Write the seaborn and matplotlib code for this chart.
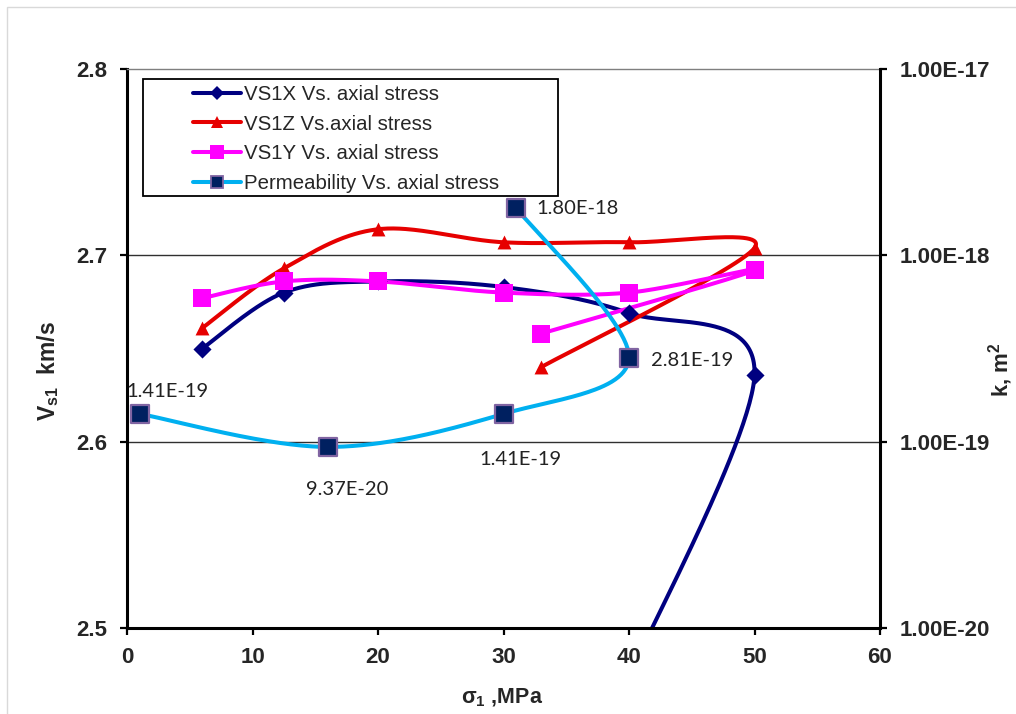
import numpy as np
import matplotlib
matplotlib.use('Agg')
import matplotlib.pyplot as plt
import seaborn as sns
import pandas as pd
from matplotlib.lines import Line2D
from matplotlib.patches import Rectangle
from matplotlib.ticker import FixedLocator, FixedFormatter, NullLocator

# ---------------- data ----------------
stress_x = [6, 12.5, 20, 30, 40, 50, 39]
vs1x = [2.650, 2.680, 2.686, 2.683, 2.669, 2.636, 2.46]
stress_z = [6, 12.5, 20, 30, 40, 50, 33]
vs1z = [2.661, 2.693, 2.714, 2.707, 2.707, 2.704, 2.640]
stress_y = [6, 12.5, 20, 30, 40, 50, 33]
vs1y = [2.677, 2.686, 2.686, 2.680, 2.680, 2.692, 2.658]
stress_k = [1, 16, 30, 40, 31]
perm = [1.41e-19, 9.37e-20, 1.41e-19, 2.81e-19, 1.80e-18]
perm_labels = ['1.41E-19', '9.37E-20', '1.41E-19', '2.81E-19', '1.80E-18']
legend_labels = ['VS1X Vs. axial stress', 'VS1Z Vs.axial stress',
                 'VS1Y Vs. axial stress', 'Permeability Vs. axial stress']
x_ticks = [0, 10, 20, 30, 40, 50, 60]
vs_ticks = [2.5, 2.6, 2.7, 2.8]
vs_tick_labels = ['2.5', '2.6', '2.7', '2.8']
k_ticks = [1e-20, 1e-19, 1e-18, 1e-17]
k_tick_labels = ['1.00E-20', '1.00E-19', '1.00E-18', '1.00E-17']

# ---------------- style ----------------
sns.set_style('white')
plt.rcParams['font.family'] = ['Liberation Sans', 'DejaVu Sans']
plt.rcParams['mathtext.fontset'] = 'custom'
plt.rcParams['mathtext.rm'] = 'Liberation Sans'
plt.rcParams['mathtext.bf'] = 'Liberation Sans:bold'
plt.rcParams['mathtext.it'] = 'Liberation Sans:italic'

NAVY = '#000080'
RED = '#e60000'
MAG = '#ff00ff'
CYAN = '#00b0f0'
PFILL = '#002060'
PEDGE = '#8064a2'

W, H = 1016, 714
fig = plt.figure(figsize=(W / 100, H / 100), dpi=100)
fig.patch.set_facecolor('white')
L, R, T, B = 127, 880, 69, 628
ax = fig.add_axes([L / W, 1 - B / H, (R - L) / W, (B - T) / H])
ax2 = ax.twinx()

XMIN, XMAX = 0, 60
YMIN, YMAX = 2.5, 2.8
ax.set_xlim(XMIN, XMAX)
ax.set_ylim(YMIN, YMAX)
ax2.set_yscale('log')
ax2.set_ylim(1e-20, 1e-17)

PXW = R - L
PXH = B - T


def smooth(xs, ys, sx, sy, n=60):
    P = np.column_stack([np.asarray(xs, float) * sx, np.asarray(ys, float) * sy])
    m = len(P)
    out = []
    for i in range(m - 1):
        p0 = P[i - 1] if i > 0 else P[i]
        p1, p2 = P[i], P[i + 1]
        p3 = P[i + 2] if i + 2 < m else P[i + 1]
        c1 = p1 + (p2 - p0) / 6.0
        c2 = p2 - (p3 - p1) / 6.0
        t = np.linspace(0, 1, n)[:, None]
        seg = (1 - t) ** 3 * p1 + 3 * (1 - t) ** 2 * t * c1 + 3 * (1 - t) * t ** 2 * c2 + t ** 3 * p2
        out.append(seg if i == 0 else seg[1:])
    pts = np.vstack(out)
    return pts[:, 0] / sx, pts[:, 1] / sy


sx = PXW / (XMAX - XMIN)
sy = PXH / (YMAX - YMIN)
LW = 2.9

series = [
    (stress_x, vs1x, NAVY, 'D', 85, NAVY, 0),
    (stress_z, vs1z, RED, '^', 100, RED, 0),
    (stress_y, vs1y, MAG, 's', 170, MAG, 0),
]
for xs, ys, col, mk, s, ec, elw in series:
    cx, cy = smooth(xs, ys, sx, sy)
    sns.lineplot(x=cx, y=cy, sort=False, estimator=None, ax=ax, color=col,
                 lw=LW, legend=False)
    sns.scatterplot(x=xs, y=ys, ax=ax, marker=mk, s=s, color=col,
                    edgecolor=ec, linewidth=elw, zorder=3, legend=False)

# permeability on log axis, smoothed in log space (pixel-proportional)
logk = np.log10(perm)
sky = PXH / 3.0
cx, cly = smooth(stress_k, logk, sx, sky)
sns.lineplot(x=cx, y=10 ** cly, sort=False, estimator=None, ax=ax2, color=CYAN,
             lw=LW, legend=False)
sns.scatterplot(x=stress_k, y=perm, ax=ax2, marker='s', s=150, color=PFILL,
                edgecolor=PEDGE, linewidth=1.6, zorder=3, legend=False)

offsets = [((28, 22), 'center'), ((19, -43), 'center'), ((17, -46), 'center'),
           ((22, -2), 'left'), ((20, -1), 'left')]
for xv, kv, lab, (off, ha) in zip(stress_k, perm, perm_labels, offsets):
    ax2.annotate(lab, xy=(xv, kv), xytext=off, textcoords='offset pixels',
                 ha=ha, va='center', fontsize=14.5, family=['Lato', 'DejaVu Sans'],
                 color='#222222')

# ---------------- axes styling ----------------
ax.grid(False)
ax2.grid(False)
for yv in vs_ticks[1:-1]:
    ax.axhline(yv, color='#303030', lw=1.0, zorder=0.5)

for a in (ax, ax2):
    for sp in a.spines.values():
        sp.set_visible(False)
ax.spines['left'].set_visible(True)
ax.spines['bottom'].set_visible(True)
ax.spines['top'].set_visible(True)
ax2.spines['right'].set_visible(True)
for sp in (ax.spines['left'], ax.spines['bottom'], ax2.spines['right']):
    sp.set_color('black')
    sp.set_linewidth(2.2)
ax.spines['top'].set_color('#7f7f7f')
ax.spines['top'].set_linewidth(1.0)

ax.xaxis.set_major_locator(FixedLocator(x_ticks))
ax.yaxis.set_major_locator(FixedLocator(vs_ticks))
ax.yaxis.set_major_formatter(FixedFormatter(vs_tick_labels))
ax2.yaxis.set_major_locator(FixedLocator(k_ticks))
ax2.yaxis.set_major_formatter(FixedFormatter(k_tick_labels))
ax2.yaxis.set_minor_locator(NullLocator())

ax.tick_params(axis='both', which='major', direction='out', length=5, width=1.6,
               color='black', labelsize=16, pad=9, bottom=True, left=True)
ax2.tick_params(axis='y', which='major', direction='out', length=5, width=1.6,
                color='black', labelsize=16, pad=9, right=True)
for lab in ax.get_xticklabels() + ax.get_yticklabels() + ax2.get_yticklabels():
    lab.set_fontweight('bold')

# axis titles
fig.text(48 / W, 1 - 371 / H, r'V$_{\mathbf{s1}}$  km/s', rotation=90,
         ha='center', va='center', fontsize=16.5, fontweight='bold')
fig.text(1001 / W, 1 - 370 / H, r'k, m$^{\mathbf{2}}$', rotation=90,
         ha='center', va='center', fontsize=16, fontweight='bold')
fig.text(502 / W, 1 - 698 / H, r'σ$_{\mathbf{1}}$ ,MPa',
         ha='center', va='center', fontsize=15.5, fontweight='bold')

# legend
handles = [
    Line2D([], [], color=NAVY, lw=LW, marker='D', markersize=7, markeredgewidth=0),
    Line2D([], [], color=RED, lw=LW, marker='^', markersize=9, markeredgewidth=0),
    Line2D([], [], color=MAG, lw=LW, marker='s', markersize=10, markeredgewidth=0),
    Line2D([], [], color=CYAN, lw=LW, marker='s', markersize=9,
           markerfacecolor=PFILL, markeredgecolor=PEDGE, markeredgewidth=1.3),
]
box = Rectangle((143 / W, 1 - 196 / H), (558 - 143) / W, (196 - 79) / H,
                transform=fig.transFigure, facecolor='white', edgecolor='black',
                lw=1.3, zorder=4)
ax2.add_patch(box)
box.set_clip_on(False)
leg = ax2.legend(handles, legend_labels, loc='upper left',
                 bbox_to_anchor=(193 / W, 1 - 85 / H), bbox_transform=fig.transFigure,
                 frameon=False, borderpad=0, borderaxespad=0, handlelength=2.35,
                 handletextpad=0.15, labelspacing=0.52, fontsize=14.7)
leg.set_zorder(5)

# outer chart border
border = Rectangle((7 / W, -0.1), 1.2, 1 - 7 / H + 0.1, transform=fig.transFigure,
                   fill=False, edgecolor='#d9d9d9', lw=1.0)
fig.add_artist(border)

fig.savefig('out.png', dpi=100)
